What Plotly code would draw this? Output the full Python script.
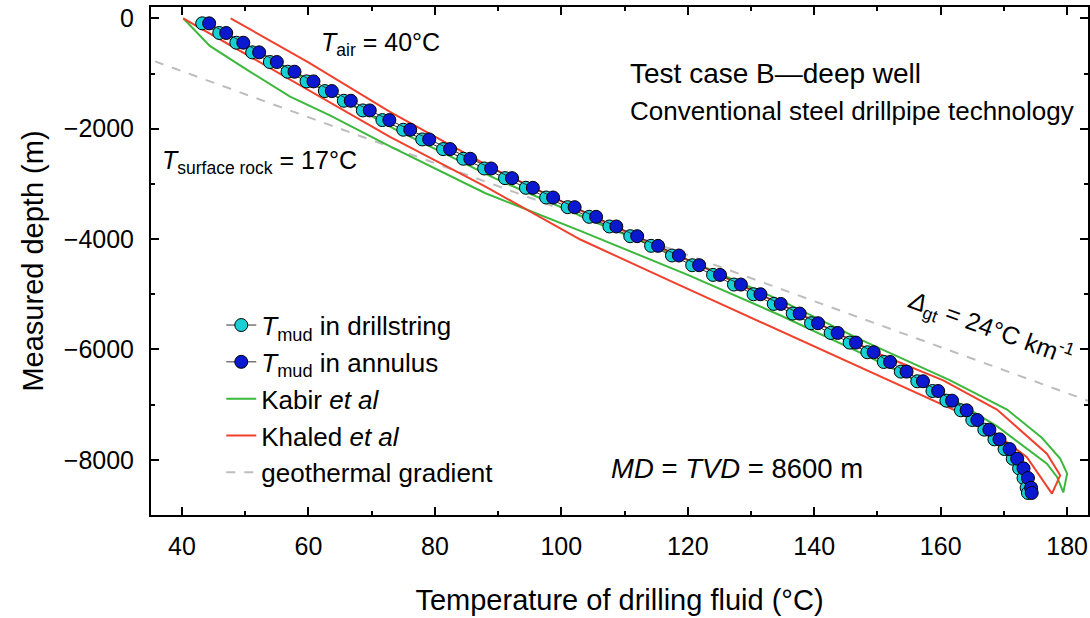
import plotly.graph_objects as go

# ---- data ----
depth_markers = [-91, -266, -442, -617, -792, -968, -1143, -1318, -1494, -1669,
                 -1844, -2019, -2195, -2370, -2545, -2721, -2896, -3071, -3247, -3422,
                 -3597, -3772, -3948, -4123, -4298, -4474, -4649, -4824, -5000, -5175,
                 -5350, -5525, -5701, -5876, -6051, -6227, -6402, -6577, -6753, -6928,
                 -7103, -7279, -7454, -7629, -7805, -7980, -8155, -8330, -8506, -8600]
t_annulus = [44.3, 47.0, 49.7, 52.2, 55.0, 57.8, 60.8, 63.7, 66.7, 69.7,
             72.8, 76.1, 79.1, 82.4, 85.6, 88.9, 92.2, 95.5, 98.7, 102.1,
             105.5, 108.7, 112.0, 115.3, 118.6, 121.8, 125.1, 128.4, 131.5, 134.7,
             137.7, 140.6, 143.7, 146.6, 149.4, 152.0, 154.6, 157.2, 159.6, 161.8,
             164.1, 165.8, 167.7, 169.3, 170.9, 172.1, 173.1, 173.8, 174.3, 174.4]
t_drillstring = [43.2, 45.9, 48.6, 51.1, 53.9, 56.7, 59.7, 62.6, 65.6, 68.6,
                 71.7, 75.0, 78.0, 81.3, 84.5, 87.8, 91.1, 94.4, 97.6, 101.0,
                 104.4, 107.6, 110.9, 114.2, 117.5, 120.7, 124.0, 127.3, 130.4, 133.6,
                 136.6, 139.5, 142.6, 145.6, 148.4, 151.0, 153.7, 156.3, 158.7, 160.9,
                 163.2, 165.0, 166.9, 168.5, 170.1, 171.4, 172.4, 173.1, 173.6, 173.8]

kabir_ds_t = [40.2, 44.4, 50.8, 57.1, 63.4, 72.9, 88.0, 103.0, 120.0, 134.6, 148.0, 160.4, 169.0, 176.8, 178.4, 179.4]
kabir_ds_d = [0, -500, -970, -1420, -1760, -2320, -3170, -3851, -4650, -5380, -6100, -6800, -7400, -8070, -8310, -8590]
kabir_an_t = [42.5, 56.5, 73.5, 89.5, 106.5, 121.5, 134.6, 147.5, 161.5, 170.5, 176.0, 178.9, 180.0, 179.4]
kabir_an_d = [0, -900, -2000, -2900, -3750, -4450, -5107, -5830, -6559, -7090, -7600, -7978, -8250, -8590]

khaled_ds_t = [40.2, 56.0, 72.9, 88.0, 103.0, 118.0, 134.1, 153.6, 166.0, 173.6, 177.6]
khaled_ds_d = [0, -1030, -2147, -3050, -4008, -4800, -5640, -6654, -7300, -7950, -8613]
khaled_an_t = [47.7, 60.0, 72.9, 88.7, 107.0, 121.8, 137.7, 149.3, 160.4, 168.9, 176.8, 178.9, 177.6]
khaled_an_d = [0, -800, -1694, -2691, -3700, -4474, -5350, -6038, -6559, -7090, -7888, -8281, -8613]

geo_t = [17, 233]
geo_d = [0, -9000]

x_ticks = [40, 60, 80, 100, 120, 140, 160, 180]
y_ticks = [0, -2000, -4000, -6000, -8000]

FONT = "Liberation Sans, Arial, Helvetica, sans-serif"
GREEN = "#3cb83c"
RED = "#f0412d"
CYAN = "#16d0d6"
BLUE = "#0a18cf"

fig = go.Figure()

fig.add_trace(go.Scatter(x=geo_t, y=geo_d, mode="lines", name="geothermal gradient",
                         line=dict(color="#bdbdbd", width=2, dash="dash"), legendrank=5))
fig.add_trace(go.Scatter(x=kabir_ds_t + kabir_an_t[::-1], y=kabir_ds_d + kabir_an_d[::-1],
                         mode="lines", name="Kabir <i>et al</i>",
                         line=dict(color=GREEN, width=2), legendrank=3))
fig.add_trace(go.Scatter(x=khaled_ds_t + khaled_an_t[::-1], y=khaled_ds_d + khaled_an_d[::-1],
                         mode="lines", name="Khaled <i>et al</i>",
                         line=dict(color=RED, width=2), legendrank=4))
fig.add_trace(go.Scatter(x=t_drillstring, y=depth_markers, mode="lines+markers",
                         name="<i>T</i><sub>mud</sub> in drillstring",
                         line=dict(color="#333333", width=1),
                         marker=dict(size=13, color=CYAN, line=dict(color="black", width=1)),
                         legendrank=1))
fig.add_trace(go.Scatter(x=t_annulus, y=depth_markers, mode="lines+markers",
                         name="<i>T</i><sub>mud</sub> in annulus",
                         line=dict(color="#333333", width=1),
                         marker=dict(size=13, color=BLUE, line=dict(color="black", width=1)),
                         legendrank=2))

axis_common = dict(showline=True, linecolor="black", linewidth=2, mirror="ticks",
                   ticks="inside", ticklen=8, tickwidth=1.5, tickcolor="black",
                   showgrid=False, zeroline=False, automargin=False,
                   ticklabeloverflow="allow",
                   tickfont=dict(family=FONT, size=25, color="black"))

fig.update_xaxes(range=[35.1, 183.3], tickvals=x_ticks,
                 minor=dict(dtick=10, ticklen=4, ticks="inside", tickcolor="black", tickwidth=1.5),
                 title=dict(text="Temperature of drilling fluid (°C)", standoff=31,
                            font=dict(family=FONT, size=29, color="black")),
                 ticklabelstandoff=8, **axis_common)
fig.update_yaxes(range=[-9000, 205], tickvals=y_ticks,
                 minor=dict(dtick=1000, ticklen=4, ticks="inside", tickcolor="black", tickwidth=1.5),
                 title=dict(text="Measured depth (m)", standoff=12,
                            font=dict(family=FONT, size=29, color="black")),
                 ticklabelstandoff=10, **axis_common)

ann_font = dict(family=FONT, size=25, color="black")
annotations = [
    dict(x=61.6, y=-470, text="<i>T</i><sub>air</sub> = 40°C", xanchor="left", yanchor="middle"),
    dict(x=36.6, y=-2600, text="<i>T</i><sub>surface rock</sub> = 17°C", xanchor="left", yanchor="middle"),
    dict(x=110.5, y=-1000, text="Test case B—deep well", xanchor="left", yanchor="middle",
         font=dict(family=FONT, size=28, color="black")),
    dict(x=110.5, y=-1680, text="Conventional steel drillpipe technology", xanchor="left", yanchor="middle",
         font=dict(family=FONT, size=26, color="black")),
    dict(x=167.8, y=-5620, text="<i>Δ</i><sub>gt</sub> = 24°C km<sup>-1</sup>", textangle=20,
         xanchor="center", yanchor="middle"),
    dict(x=107.6, y=-8150, text="<i>MD</i> = <i>TVD</i> = 8600 m", xanchor="left", yanchor="middle",
         font=dict(family=FONT, size=27.5, color="black")),
]
for a in annotations:
    a.setdefault("font", ann_font)
    fig.add_annotation(showarrow=False, xref="x", yref="y", **a)

fig.update_layout(
    width=1090, height=618,
    margin=dict(l=151, r=2, t=7, b=103, autoexpand=False),
    paper_bgcolor="white", plot_bgcolor="white",
    font=dict(family=FONT, color="black"),
    legend=dict(x=0.075, y=0.42, xanchor="left", yanchor="top",
                font=dict(family=FONT, size=26, color="black"),
                bgcolor="rgba(0,0,0,0)", tracegroupgap=0, itemwidth=30),
    showlegend=True,
)

# remove the page's default 8 px body margin so the figure fills the window exactly
fig.write_html("out.html", config={"displayModeBar": False},
               post_script="document.body.style.margin='0px';")
